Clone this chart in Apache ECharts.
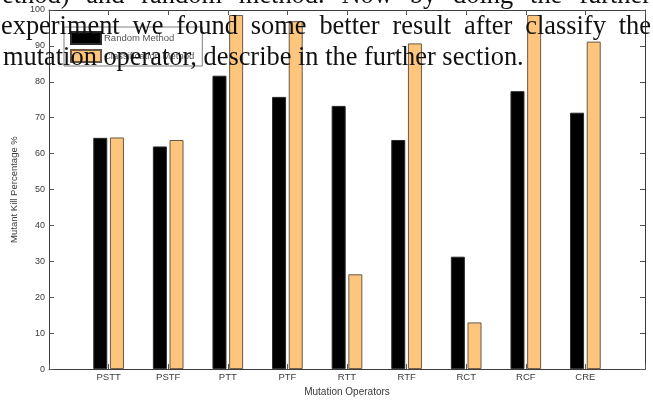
<!DOCTYPE html>
<html>
<head>
<meta charset="utf-8">
<script src="https://cdn.jsdelivr.net/npm/echarts@6/dist/echarts.min.js"></script>
<style>
  html, body { margin: 0; padding: 0; background: #fff; }
  #chart { width: 653px; height: 402px; }
</style>
</head>
<body>
<div id="chart"></div>
<script>
// Mutation operators on the x axis
const operators = ['PSTT', 'PSTF', 'PTT', 'PTF', 'RTT', 'RTF', 'RCT', 'RCF', 'CRE'];
// Mutant kill percentage per operator
const randomMethod = [64.4, 62.0, 81.7, 75.8, 73.3, 63.8, 31.3, 77.4, 71.4];
const classificationMethod = [64.5, 63.8, 98.6, 96.9, 26.4, 90.7, 13.0, 98.6, 91.2];
const seriesNames = ['Random Method', 'Classification Method'];
// Surrounding paragraph lines printed over the figure
const paragraphLines = [
  'ethod) and random method. Now by doing the further',
  'experiment we found some better result after classify the',
  'mutation operator, describe in the further section.'
];

const SANS = '"Liberation Sans", Arial, sans-serif';
const SERIF = '"Liberation Serif", "Times New Roman", serif';
const AXIS_COLOR = '#3c3c3c';
const LABEL_COLOR = '#3a3a3a';

// one empty slot at each end so the operators sit at positions 1..9 of 0..10
const axisData = [''].concat(operators, ['']);
const pad = arr => ['-'].concat(arr, ['-']);

// paragraph text, justified lines spread over the page width
const PARA_SIZE = 26.4;
const PARA_FONT = PARA_SIZE + 'px ' + SERIF;
const measureCtx = document.createElement('canvas').getContext('2d');
measureCtx.font = PARA_FONT;
function paragraphLine(text, yMid, justify, left, right) {
  const style = { fill: '#111', font: PARA_FONT, verticalAlign: 'middle', textAlign: 'left' };
  if (!justify) {
    return [{ type: 'text', x: left, y: yMid, z: 100, style: Object.assign({ text }, style) }];
  }
  const words = text.split(' ');
  const widths = words.map(w => measureCtx.measureText(w).width);
  const total = widths.reduce((a, b) => a + b, 0);
  const gap = (right - left - total) / (words.length - 1);
  const out = [];
  let x = left;
  words.forEach((w, i) => {
    out.push({ type: 'text', x: x, y: yMid, z: 100, style: Object.assign({ text: w }, style) });
    x += widths[i] + gap;
  });
  return out;
}
const paragraphGraphics = [].concat(
  paragraphLine(paragraphLines[0], -4, true, 2, 651),
  paragraphLine(paragraphLines[1], 27, true, 1, 651),
  paragraphLine(paragraphLines[2], 58, false, 3, 651)
);

const chart = echarts.init(document.getElementById('chart'), null, { renderer: 'canvas' });

const xAxisCommon = {
  type: 'category',
  data: axisData,
  boundaryGap: false,
  axisLine: { onZero: false, lineStyle: { color: AXIS_COLOR, width: 1 } },
  axisTick: { inside: true, length: 5, lineStyle: { color: '#555' } },
  splitLine: { show: false }
};
const yAxisCommon = {
  type: 'value',
  min: 0,
  max: 100,
  interval: 10,
  axisLine: { show: true, lineStyle: { color: AXIS_COLOR, width: 1 } },
  axisTick: { show: true, inside: true, length: 5, lineStyle: { color: '#555' } },
  splitLine: { show: false }
};

chart.setOption({
  animation: false,
  backgroundColor: '#fff',
  grid: { left: 49, right: 8, top: 10, bottom: 24, containLabel: false },
  legend: {
    orient: 'vertical',
    left: 64,
    top: 27,
    itemWidth: 30,
    itemHeight: 12,
    itemGap: 4,
    padding: [4, 8, 3, 6],
    borderColor: '#808080',
    borderWidth: 1,
    borderRadius: 0,
    backgroundColor: '#fff',
    icon: 'rect',
    textStyle: { fontFamily: SANS, fontSize: 9.5, color: '#555', padding: [0, 0, 0, -2] },
    data: seriesNames
  },
  xAxis: [
    Object.assign({}, xAxisCommon, {
      position: 'bottom',
      name: 'Mutation Operators',
      nameLocation: 'middle',
      nameGap: 13,
      nameTextStyle: { fontFamily: SANS, fontSize: 10, color: LABEL_COLOR },
      axisLabel: { fontFamily: SANS, fontSize: 9.5, color: LABEL_COLOR, margin: 3, interval: 0 }
    }),
    Object.assign({}, xAxisCommon, { position: 'top', axisLabel: { show: false } })
  ],
  yAxis: [
    Object.assign({}, yAxisCommon, {
      position: 'left',
      name: 'Mutant Kill Percentage %',
      nameLocation: 'middle',
      nameGap: 23,
      nameTextStyle: { fontFamily: SANS, fontSize: 9.5, color: LABEL_COLOR },
      axisLabel: { fontFamily: SANS, fontSize: 9, color: LABEL_COLOR, margin: 4 }
    }),
    Object.assign({}, yAxisCommon, { position: 'right', axisLabel: { show: false } })
  ],
  series: [
    {
      name: seriesNames[0],
      type: 'bar',
      xAxisIndex: 0,
      yAxisIndex: 0,
      barWidth: 14,
      barGap: '19%',
      itemStyle: { color: '#000', borderColor: '#2a2a2a', borderWidth: 1 },
      data: pad(randomMethod)
    },
    {
      name: seriesNames[1],
      type: 'bar',
      xAxisIndex: 0,
      yAxisIndex: 0,
      barWidth: 14,
      barGap: '19%',
      itemStyle: { color: '#fec57c', borderColor: '#6a5846', borderWidth: 1 },
      data: pad(classificationMethod)
    }
  ],
  graphic: paragraphGraphics
});
</script>
</body>
</html>
